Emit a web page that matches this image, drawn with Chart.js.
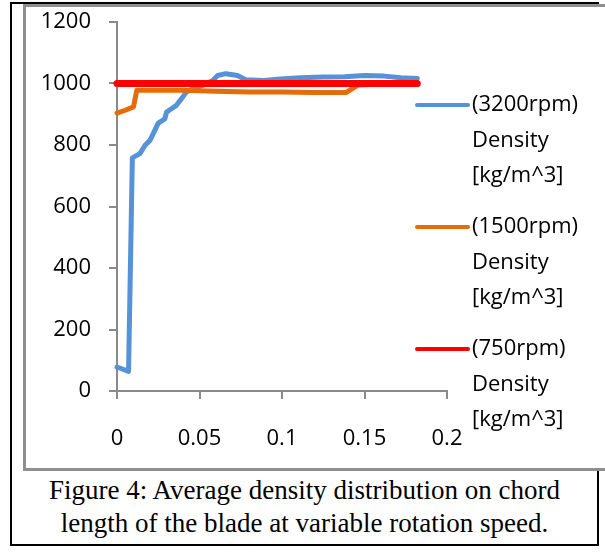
<!DOCTYPE html>
<html lang="en">
<head>
    <meta charset="UTF-8">
    <title>Average density distribution</title>
    <script src="https://cdn.jsdelivr.net/npm/chart.js"></script>
    <style>
        body {
            margin: 0;
            background: #fff;
            overflow: hidden;
            width: 605px;
            height: 552px;
            position: relative;
        }
        #frame {
            position: absolute;
            left: 10px;
            top: 2px;
            width: 589px;
            height: 544px;
            border: 2px solid #000;
            box-sizing: border-box;
        }
        #plot {
            position: absolute;
            left: 23px;
            top: 4px;
            width: 620px;
            height: 467px;
            border: 3px solid #8f8f8f;
            border-right: none;
            box-sizing: border-box;
            background: #fff;
        }
        #chart {
            position: absolute;
            left: 24px;
            top: 5px;
        }
        #caption {
            position: absolute;
            left: 10px;
            top: 474px;
            width: 589px;
            text-align: center;
            font-family: "Liberation Serif", "Times New Roman", serif;
            font-size: 27px;
            line-height: 33px;
            color: #000;
        }
    </style>
</head>
<body>
    <div id="frame"></div>
    <div id="plot"></div>
    <canvas id="chart" width="575" height="462"></canvas>
    <div id="caption">Figure 4: Average density distribution on chord<br>length of the blade at variable rotation speed.</div>
    <script>
        // chord position [m]
        const xTicks = [0, 0.05, 0.1, 0.15, 0.2];
        const yTicks = [0, 200, 400, 600, 800, 1000, 1200];

        const rpm3200X = [0, 0.007, 0.0093, 0.0139, 0.017, 0.020, 0.0224, 0.025, 0.029, 0.030, 0.033, 0.036, 0.039, 0.042, 0.046, 0.052, 0.058, 0.061, 0.066, 0.073, 0.078, 0.089, 0.099, 0.111, 0.125, 0.138, 0.150, 0.162, 0.172, 0.182];
        const rpm3200Y = [78, 64, 758, 772, 799, 815, 842, 871, 885, 907, 918, 929, 950, 972, 983, 994, 1010, 1026, 1032, 1026, 1012, 1010, 1015, 1019, 1021, 1022, 1026, 1024, 1019, 1016];

        const rpm1500X = [0, 0.005, 0.010, 0.012, 0.02, 0.04, 0.06, 0.08, 0.10, 0.12, 0.139, 0.146, 0.16, 0.182];
        const rpm1500Y = [904, 913, 924, 978, 978, 978, 975, 972, 972, 971, 971, 995, 998, 998];

        const rpm750X = [0, 0.182];
        const rpm750Y = [1000, 1000];

        const seriesNames = [
            ['(3200rpm)', 'Density', '[kg/m^3]'],
            ['(1500rpm)', 'Density', '[kg/m^3]'],
            ['(750rpm)', 'Density', '[kg/m^3]']
        ];
        const seriesColors = ['#5592d8', '#e46c0a', '#ff0000'];

        function toPoints(xs, ys) {
            return xs.map((x, i) => ({ x: x, y: ys[i] }));
        }

        const tickFont = { family: 'Open Sans', size: 22 };
        const axisGray = '#8a8a8a';

        // excel-style legend: short line + three text lines per series
        const sideLegend = {
            id: 'sideLegend',
            afterDraw(chart) {
                const ctx = chart.ctx;
                const area = chart.chartArea;
                const x0 = area.right - 30;
                ctx.save();
                ctx.font = '22px "Open Sans"';
                ctx.textBaseline = 'middle';
                ctx.textAlign = 'left';
                seriesNames.forEach((lines, i) => {
                    const y = area.top + 83 + i * 122;
                    ctx.strokeStyle = seriesColors[i];
                    ctx.lineWidth = 4;
                    ctx.lineCap = 'round';
                    ctx.beginPath();
                    ctx.moveTo(x0, y);
                    ctx.lineTo(x0 + 51, y);
                    ctx.stroke();
                    ctx.fillStyle = '#000';
                    lines.forEach((t, j) => ctx.fillText(t, x0 + 55, y + j * 35.5));
                });
                ctx.restore();
            }
        };

        new Chart(document.getElementById('chart'), {
            type: 'scatter',
            data: {
                datasets: [
                    { label: seriesNames[0].join(' '), data: toPoints(rpm3200X, rpm3200Y), borderColor: seriesColors[0], borderWidth: 5, order: 2 },
                    { label: seriesNames[1].join(' '), data: toPoints(rpm1500X, rpm1500Y), borderColor: seriesColors[1], borderWidth: 5, order: 1 },
                    { label: seriesNames[2].join(' '), data: toPoints(rpm750X, rpm750Y), borderColor: seriesColors[2], borderWidth: 7, order: 0 }
                ].map(d => Object.assign(d, {
                    showLine: true,
                    pointRadius: 0,
                    tension: 0,
                    borderJoinStyle: 'round',
                    borderCapStyle: 'round',
                    clip: false
                }))
            },
            options: {
                responsive: false,
                animation: false,
                layout: { padding: { top: 17, right: 152, left: 0, bottom: 0 } },
                plugins: {
                    legend: { display: false },
                    tooltip: { enabled: false }
                },
                scales: {
                    x: {
                        type: 'linear',
                        min: 0,
                        max: 0.2,
                        afterFit: s => { s.height = 76; s.paddingRight = 0; s.paddingLeft = 0; },
                        afterBuildTicks: s => { s.ticks = xTicks.map(v => ({ value: v })); },
                        ticks: {
                            font: tickFont,
                            color: '#000',
                            padding: 27,
                            maxRotation: 0,
                            callback: v => String(v)
                        },
                        grid: { drawOnChartArea: false, tickLength: 8, color: axisGray, lineWidth: 2 },
                        border: { color: axisGray, width: 2 }
                    },
                    y: {
                        min: 0,
                        max: 1200,
                        afterFit: s => { s.width = 93; s.paddingTop = 0; s.paddingBottom = 0; },
                        afterBuildTicks: s => { s.ticks = yTicks.map(v => ({ value: v })); },
                        ticks: {
                            font: tickFont,
                            color: '#000',
                            padding: 18,
                            callback: v => String(v)
                        },
                        grid: { drawOnChartArea: false, tickLength: 8, color: axisGray, lineWidth: 2 },
                        border: { color: axisGray, width: 2 }
                    }
                }
            },
            plugins: [sideLegend]
        });
    </script>
</body>
</html>
